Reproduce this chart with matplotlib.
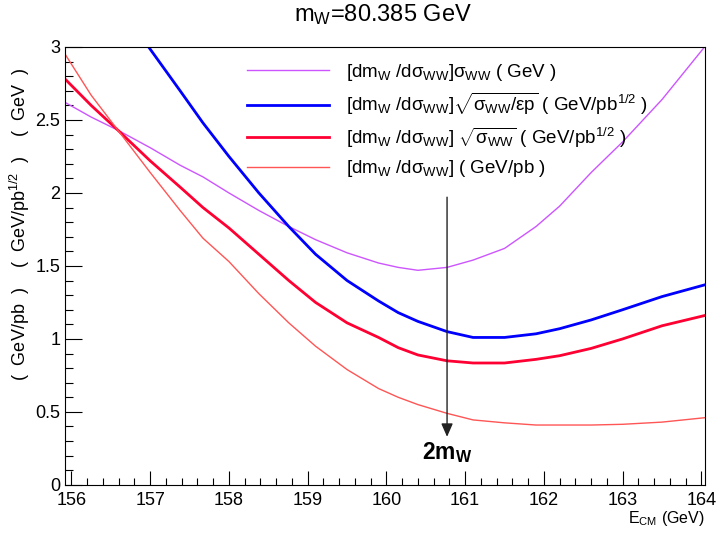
import numpy as np
import matplotlib
matplotlib.use("Agg")
import matplotlib.pyplot as plt
from matplotlib.ticker import MultipleLocator, FuncFormatter

plt.rcParams['font.family'] = ['Liberation Sans', 'DejaVu Sans']
plt.rcParams['mathtext.fontset'] = 'custom'
plt.rcParams['mathtext.rm'] = 'Liberation Sans'
plt.rcParams['mathtext.it'] = 'Liberation Sans'
plt.rcParams['mathtext.bf'] = 'Liberation Sans:bold'

# valeurs
m_w = 80.385
e_cm = [155.92, 156.25, 156.59, 157.0, 157.38, 157.67, 158.0, 158.38, 158.76, 159.1, 159.5, 159.9,
        160.15, 160.4, 160.77, 161.1, 161.5, 161.9, 162.2, 162.6, 163.0, 163.5, 164.04]
sigma_ww = [2.62, 2.52, 2.43, 2.31, 2.19, 2.11, 2.0, 1.88, 1.77, 1.68, 1.59, 1.52,
            1.49, 1.47, 1.49, 1.54, 1.62, 1.77, 1.91, 2.14, 2.35, 2.64, 3.0]
e_cm_blue = [156.98, 157.38, 157.67, 158.0, 158.38, 158.76, 159.1, 159.5, 159.9, 160.15,
             160.4, 160.77, 161.1, 161.5, 161.9, 162.2, 162.6, 163.0, 163.5, 164.04]
sqrt_sig_eff = [3.0, 2.70, 2.48, 2.25, 2.0, 1.77, 1.58, 1.40, 1.26, 1.18,
                1.12, 1.05, 1.01, 1.01, 1.035, 1.07, 1.13, 1.20, 1.29, 1.37]
sqrt_sig = [2.78, 2.60, 2.43, 2.22, 2.04, 1.90, 1.76, 1.58, 1.40, 1.25, 1.11, 1.01,
            0.94, 0.89, 0.85, 0.835, 0.835, 0.86, 0.885, 0.935, 1.0, 1.09, 1.16]
plain = [2.95, 2.67, 2.43, 2.14, 1.88, 1.69, 1.53, 1.31, 1.11, 0.95, 0.79, 0.66,
         0.60, 0.55, 0.49, 0.445, 0.425, 0.41, 0.41, 0.41, 0.415, 0.43, 0.46]

labels = [
    r"[dm$_{W}$ /d$\sigma_{WW}$]$\sigma_{WW}$ ( GeV )",
    r"[dm$_{W}$ /d$\sigma_{WW}$]$\sqrt{\sigma_{WW}/\epsilon p}$ ( GeV/pb$^{1/2}$ )",
    r"[dm$_{W}$ /d$\sigma_{WW}$] $\sqrt{\sigma_{WW}}$ ( GeV/pb$^{1/2}$ )",
    r"[dm$_{W}$ /d$\sigma_{WW}$] ( GeV/pb )",
]

fig = plt.figure(figsize=(7.16, 5.34), dpi=100)
ax = fig.add_axes([0.091, 0.092, 0.893, 0.82])

ax.plot(e_cm, sigma_ww, color='#cc55ff', lw=1.0, label=labels[0])
ax.plot(e_cm_blue, sqrt_sig_eff, color='#0000ff', lw=2.0, label=labels[1])
ax.plot(e_cm, sqrt_sig, color='#ff0033', lw=2.0, label=labels[2])
ax.plot(e_cm, plain, color='#ff5555', lw=1.0, label=labels[3])

ax.set_xlim(155.92, 164.04)
ax.set_ylim(0, 3)
ax.xaxis.set_major_locator(MultipleLocator(1))
ax.xaxis.set_minor_locator(MultipleLocator(0.2))
ax.yaxis.set_major_locator(MultipleLocator(0.5))
ax.yaxis.set_minor_locator(MultipleLocator(0.1))
ax.yaxis.set_major_formatter(FuncFormatter(lambda v, p: "%g" % v))
ax.tick_params(which='both', direction='in', labelsize=13, width=0.8)
ax.tick_params(axis='y', which='major', length=12)
ax.tick_params(axis='y', which='minor', length=6)
ax.tick_params(axis='x', which='major', length=10)
ax.tick_params(axis='x', which='minor', length=5)
ax.tick_params(axis='x', pad=5)

ax.set_xlabel(r"E$_{CM}$ (GeV)", loc='right', fontsize=11.5, labelpad=0)
ax.set_ylabel(r"(  GeV/pb  )    (  GeV/pb$^{1/2}$  )    (  GeV  )", fontsize=13)
ax.yaxis.set_label_coords(-0.052, 0.595)
fig.text(0.535, 0.972, r"m$_{W}$=80.385 GeV", ha='center', va='center', fontsize=17)

# flèche à 2 m_W
ax.annotate("", xy=(2 * m_w, 0.31), xytext=(2 * m_w, 1.99),
            arrowprops=dict(arrowstyle='-|>,head_length=0.8,head_width=0.35',
                            color='#222222', lw=1.0))
ax.text(2 * m_w, 0.22, r"$\mathbf{2m_{W}}$", ha='center', va='center', fontsize=16.5)

ax.legend(loc='upper left', bbox_to_anchor=(0.258, 1.005), frameon=False, fontsize=13.5,
          handlelength=4.4, handletextpad=0.9, labelspacing=0.45)

fig.savefig("out.png", dpi=100)
